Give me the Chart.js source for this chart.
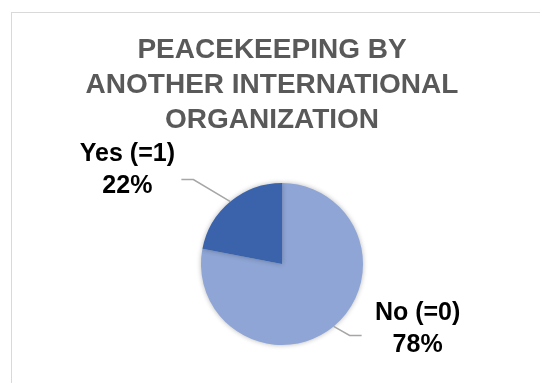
<!DOCTYPE html>
<html>
<head>
<meta charset="utf-8">
<script src="https://cdn.jsdelivr.net/npm/chart.js@4"></script>
<style>
    html, body { margin: 0; padding: 0; background: #ffffff; }
    #wrap { position: relative; width: 540px; height: 383px; overflow: hidden; }
    #frame {
        position: absolute; left: 11px; top: 12px; width: 600px; height: 400px;
        border-left: 1px solid #d9d9d9; border-top: 1px solid #d9d9d9;
    }
    canvas { position: absolute; left: 0; top: 0; }
</style>
</head>
<body>
<div id="wrap">
    <div id="frame"></div>
    <canvas id="chart" width="540" height="383"></canvas>
</div>
<script>
// survey answers
const categories = ["No (=0)", "Yes (=1)"];
const shares = [78, 22];
const sliceColors = ["#8EA5D5", "#3B63AC"];
const titleLines = ["PEACEKEEPING BY", "ANOTHER INTERNATIONAL", "ORGANIZATION"];

// where each callout sits relative to the point on the rim at the slice middle
const callouts = [
    { elbow: [16, 9], tail: 12, text: [84, 3] },
    { elbow: [-37, -22], tail: -12, text: [-103, -31] }
];

const canvas = document.getElementById("chart");
const ctx = canvas.getContext("2d");

// nudge the title back left a bit, the pie sits right of centre
const titleShift = {
    id: "titleShift",
    afterLayout(chart) {
        chart.titleBlock.left -= 10;
        chart.titleBlock.right -= 10;
    }
};

// soft shadow under the pie
const pieShadow = {
    id: "pieShadow",
    beforeDatasetsDraw(chart) {
        chart.ctx.save();
        chart.ctx.shadowColor = "rgba(0,0,0,0.28)";
        chart.ctx.shadowBlur = 5;
    },
    afterDatasetsDraw(chart) {
        chart.ctx.restore();
    }
};

// leader lines + category / percent labels
const calloutLabels = {
    id: "calloutLabels",
    afterDraw(chart) {
        const c = chart.ctx;
        const meta = chart.getDatasetMeta(0);
        const data = chart.data.datasets[0].data;
        const total = data.reduce((a, b) => a + b, 0);

        meta.data.forEach((arc, i) => {
            const p = arc.getProps(["x", "y", "startAngle", "endAngle", "outerRadius"], true);
            const mid = (p.startAngle + p.endAngle) / 2;
            const ex = p.x + Math.cos(mid) * p.outerRadius;
            const ey = p.y + Math.sin(mid) * p.outerRadius;
            const cfg = callouts[i];
            const bx = ex + cfg.elbow[0];
            const by = ey + cfg.elbow[1];

            c.save();
            c.strokeStyle = "#a6a6a6";
            c.lineWidth = 1.5;
            c.beginPath();
            c.moveTo(ex, ey);
            c.lineTo(bx, by);
            c.lineTo(bx + cfg.tail, by);
            c.stroke();

            const tx = ex + cfg.text[0];
            const ty = ey + cfg.text[1];
            c.fillStyle = "#000000";
            c.font = "bold 25px 'Liberation Sans', Arial, sans-serif";
            c.textAlign = "center";
            c.textBaseline = "middle";
            c.fillText(chart.data.labels[i], tx, ty - 16);
            c.fillText(Math.round(data[i] / total * 100) + "%", tx, ty + 16);
            c.restore();
        });
    }
};

let chart = new Chart(ctx, {
    type: "pie",
    data: {
        labels: categories,
        datasets: [{
            data: shares,
            backgroundColor: sliceColors,
            borderWidth: 0,
            hoverOffset: 0
        }]
    },
    options: {
        responsive: false,
        animation: false,
        events: [],
        rotation: 0,
        layout: {
            padding: { top: 33, bottom: 38, left: 24, right: 0 }
        },
        plugins: {
            legend: { display: false },
            tooltip: { enabled: false },
            title: {
                display: true,
                text: titleLines,
                color: "#595959",
                font: {
                    family: "'Liberation Sans', Arial, sans-serif",
                    size: 28,
                    weight: "bold",
                    lineHeight: 1.25
                },
                padding: { top: 0, bottom: 45 }
            }
        }
    },
    plugins: [titleShift, pieShadow, calloutLabels]
});
</script>
</body>
</html>
